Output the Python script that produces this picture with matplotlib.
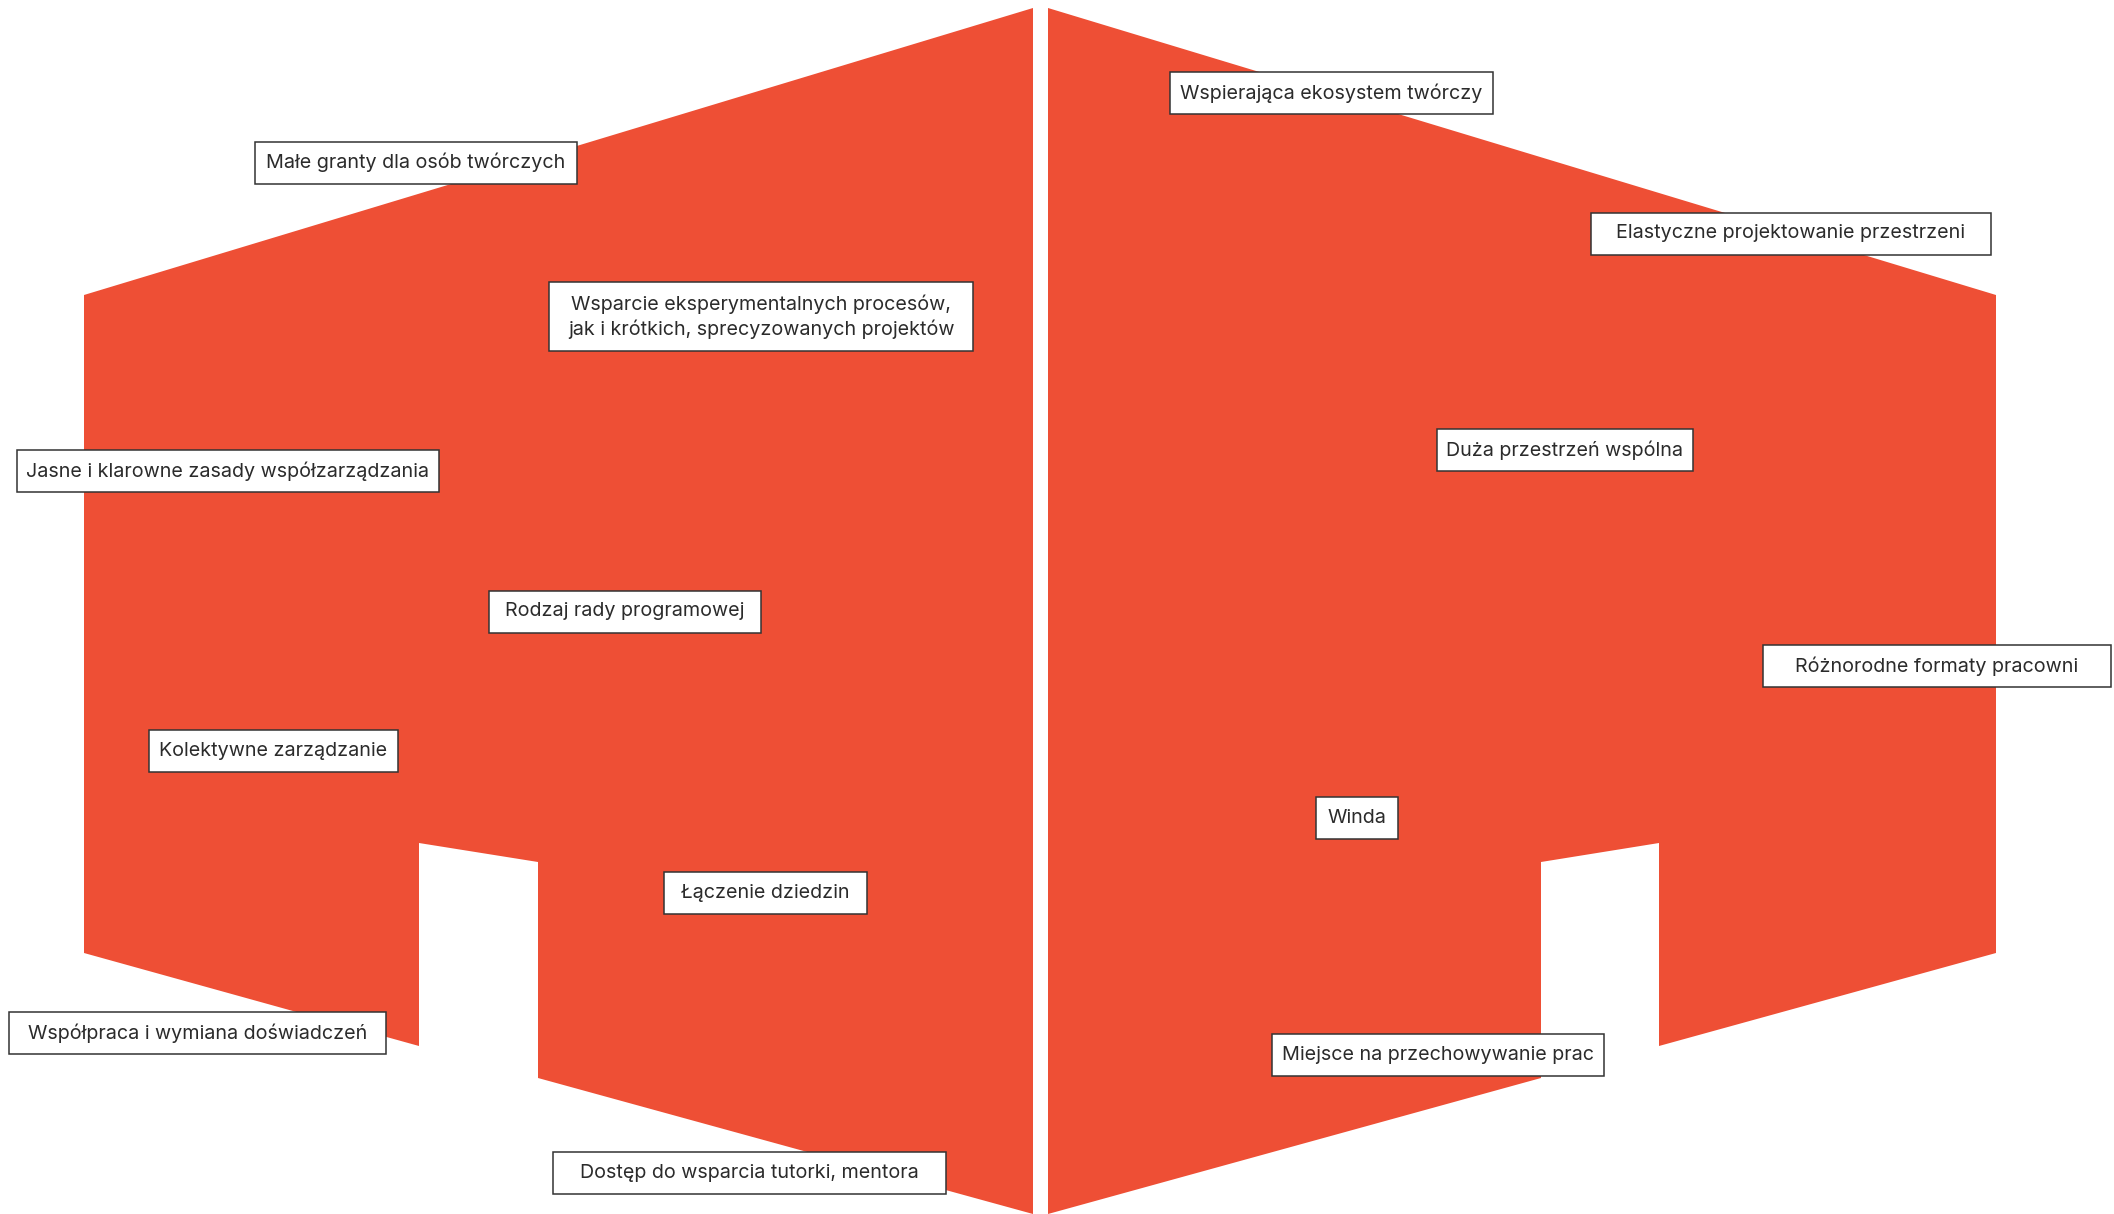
import matplotlib
matplotlib.use("Agg")
import matplotlib.pyplot as plt
from matplotlib.patches import Polygon, Rectangle

plt.rcParams['font.family'] = ['Inter', 'DejaVu Sans']

# Left building outline (x, y in pixel units, y downward)
left_x = [84, 1033, 1033, 538, 538, 419, 419, 84]
left_y = [295, 8, 1214, 1078, 862, 843, 1046, 953]
# Right building outline (mirror)
right_x = [1048, 1996, 1996, 1659, 1659, 1541, 1541, 1048]
right_y = [8, 295, 953, 1046, 843, 862, 1078, 1214]

labels = [
    "Małe granty dla osób twórczych",
    "Wsparcie eksperymentalnych procesów,\njak i krótkich, sprecyzowanych projektów",
    "Jasne i klarowne zasady współzarządzania",
    "Rodzaj rady programowej",
    "Kolektywne zarządzanie",
    "Łączenie dziedzin",
    "Współpraca i wymiana doświadczeń",
    "Dostęp do wsparcia tutorki, mentora",
    "Wspierająca ekosystem twórczy",
    "Elastyczne projektowanie przestrzeni",
    "Duża przestrzeń wspólna",
    "Różnorodne formaty pracowni",
    "Winda",
    "Miejsce na przechowywanie prac",
]
label_x = [416, 761, 228, 625, 273.5, 765.5, 197.5, 749.5, 1331.5, 1791, 1565, 1937, 1357, 1438]
label_y = [162.5, 316.5, 471, 611.5, 751, 892.5, 1033, 1173, 93, 233.5, 450, 666, 818, 1055]

# box sizes (layout)
box_w = [322, 424, 422, 272, 249, 203, 377, 393, 323, 400, 256, 348, 82, 332]
box_h = [42, 69, 42, 42, 42, 42, 42, 42, 42, 42, 42, 42, 42, 42]

W, H = 2114, 1214
fig = plt.figure(figsize=(W / 100, H / 100), dpi=100)
ax = fig.add_axes([0, 0, 1, 1])
ax.set_xlim(0, W)
ax.set_ylim(H, 0)
ax.axis('off')

color = '#EE4F35'
ax.add_patch(Polygon(list(zip(left_x, left_y)), closed=True, facecolor=color, edgecolor='none'))
ax.add_patch(Polygon(list(zip(right_x, right_y)), closed=True, facecolor=color, edgecolor='none'))

for t, x, y, w, h in zip(labels, label_x, label_y, box_w, box_h):
    ax.add_patch(Rectangle((x - w / 2, y - h / 2), w, h, facecolor='white',
                           edgecolor='#333333', linewidth=1.1, zorder=3))
    ax.text(x, y, t, ha='center', va='center', fontsize=14.2, color='#2b2b2b',
            linespacing=1.35, multialignment='center', zorder=4)

fig.savefig('out.png', dpi=100)
